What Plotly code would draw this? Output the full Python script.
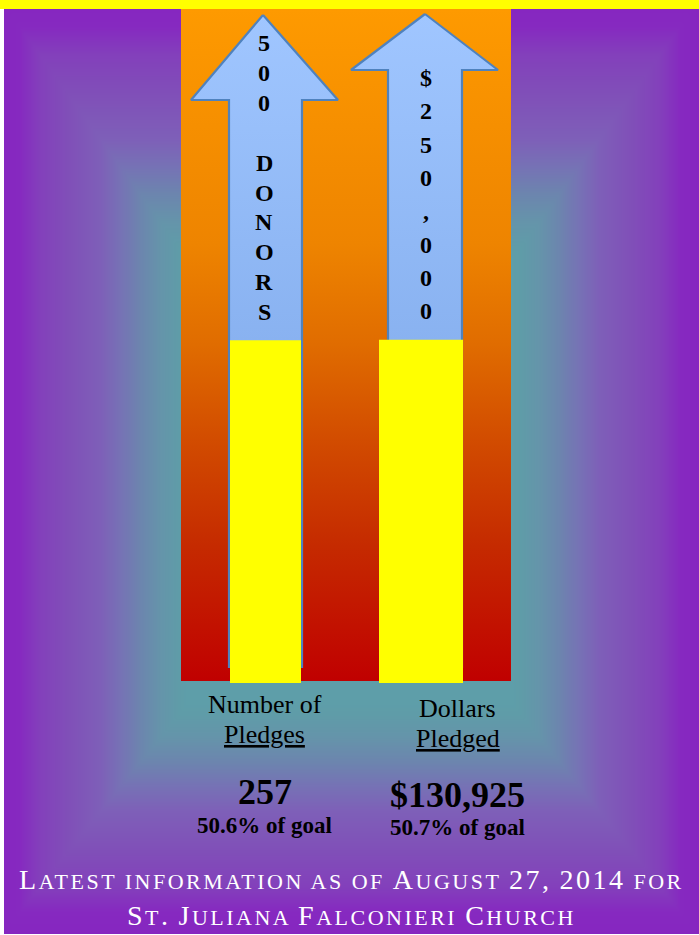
import re
import numpy as np
import plotly.graph_objects as go

# ---------------- data ----------------
categories = ["Number of Pledges", "Dollars Pledged"]
goal_labels = ["500 DONORS", "$250,000"]
pledged_labels = ["257", "$130,925"]
pct_of_goal = [50.6, 50.7]
pct_labels = ["50.6% of goal", "50.7% of goal"]
cat_line1 = ["Number of", "Dollars"]
cat_line2 = ["Pledges", "Pledged"]
footer_1 = "Latest information as of August 27, 2014 for"
footer_2 = "St. Juliana Falconieri Church"

# ---------------- layout constants (pixel units) ----------------
W, H = 699, 935
BAR_X = [265.5, 421.0]
BAR_W = [71, 84]
LABEL_X = [264.5, 457.5]
BASE_PX = 683.0           # pixel row of value 0
PX_PER_PCT = 343.0 / 50.65
SERIF = "Liberation Serif, Times New Roman, serif"

fig = go.Figure()

# ---- background rectangular (path) gradient with an inner focus rectangle ----
gx = np.arange(0, W + 3, 3)
gy = np.arange(0, H + 3, 3)
X, Y = np.meshgrid(gx, gy)
IL, IR, IT, IB = 188.0, 511.0, 260.0, 702.0
t = np.maximum.reduce([
    np.zeros_like(X, dtype=float),
    (IL - X) / IL,
    (X - IR) / (W - IR),
    (IT - Y) / IT,
    (Y - IB) / (H - IB),
])
t = np.clip(t, 0, 1)
bg_scale = [
    [0.0, "#5E9EA9"], [0.05, "#5F9CA8"], [0.15, "#6594AA"], [0.255, "#6C85AE"],
    [0.36, "#7672B5"], [0.47, "#7E5FB8"], [0.63, "#8050B8"], [0.79, "#8340BB"],
    [0.9, "#8629C0"], [1.0, "#8626C0"],
]
fig.add_trace(go.Heatmap(x=gx, y=gy, z=t, zmin=0, zmax=1, colorscale=bg_scale,
                         zsmooth="best", showscale=False, hoverinfo="skip"))

# ---- orange-red panel ----
fig.add_trace(go.Scatter(
    x=[181, 511, 511, 181, 181], y=[9, 9, 681, 681, 9], mode="lines",
    line=dict(width=0), fill="toself", hoverinfo="skip", showlegend=False,
    fillgradient=dict(type="vertical", start=9, stop=681,
                      colorscale=[[0, "#FE9A00"], [0.35, "#EE8400"], [0.5, "#E06C00"],
                                  [0.65, "#D14A00"], [0.8, "#C52A00"], [1, "#C00000"]]),
))

# ---- goal arrows ----
arrows = [
    dict(apex=(263, 15), head_y=100, head=(191, 338), shaft=(229, 302), bottom=667),
    dict(apex=(425, 14), head_y=70, head=(351, 498), shaft=(388, 462), bottom=667),
]
for a in arrows:
    ax = [a["apex"][0], a["head"][1], a["shaft"][1], a["shaft"][1], a["shaft"][0],
          a["shaft"][0], a["head"][0], a["apex"][0]]
    ay = [a["apex"][1], a["head_y"], a["head_y"], a["bottom"], a["bottom"],
          a["head_y"], a["head_y"], a["apex"][1]]
    fig.add_trace(go.Scatter(
        x=ax, y=ay, mode="lines", line=dict(width=2.2, color="#4F82BE"),
        fill="toself", hoverinfo="skip", showlegend=False,
        fillgradient=dict(type="vertical", start=15, stop=667,
                          colorscale=[[0, "#A0C6FF"], [1, "#729EE2"]]),
    ))

# ---- pledged bars (percent of goal) ----
fig.add_trace(go.Bar(x=BAR_X, y=pct_of_goal, width=BAR_W, base=0,
                     marker=dict(color="#FFFF00", line=dict(width=0)),
                     xaxis="x2", yaxis="y2", hoverinfo="skip", showlegend=False))

y2_top = BASE_PX / PX_PER_PCT
y2_bot = -(H - BASE_PX) / PX_PER_PCT

fig.update_layout(
    width=W, height=H, margin=dict(l=0, r=0, t=0, b=0),
    paper_bgcolor="white", plot_bgcolor="rgba(0,0,0,0)", showlegend=False,
    xaxis=dict(range=[0, W], visible=False, fixedrange=True),
    yaxis=dict(range=[H, 0], visible=False, fixedrange=True),
    xaxis2=dict(range=[0, W], visible=False, overlaying="x", fixedrange=True),
    yaxis2=dict(range=[y2_bot, y2_top], visible=False, overlaying="y", fixedrange=True),
)

# ---- decorations: white edges and yellow top band ----
fig.add_shape(type="rect", xref="x", yref="y", x0=0, x1=4, y0=0, y1=H,
              fillcolor="white", line=dict(width=0), layer="above")
fig.add_shape(type="rect", xref="x", yref="y", x0=0, x1=W, y0=H - 1, y1=H,
              fillcolor="white", line=dict(width=0), layer="above")
fig.add_shape(type="rect", xref="x", yref="y", x0=0, x1=W, y0=0, y1=9,
              fillcolor="#FFFF00", line=dict(width=0), layer="above")

# ---- arrow lettering ----
arrow_text = [
    dict(x=264, y0=43, step=29.9, text=goal_labels[0]),
    dict(x=426, y0=78, step=33.3, text=goal_labels[1]),
]
for at in arrow_text:
    for i, ch in enumerate(at["text"]):
        if ch.strip() == "":
            continue
        fig.add_annotation(x=at["x"], y=at["y0"] + i * at["step"], xref="x", yref="y",
                           text=f"<b>{ch}</b>", showarrow=False, xanchor="center",
                           yanchor="middle", font=dict(family=SERIF, size=24, color="black"))

# ---- category labels and values ----
line1_y = [704.4, 708.4]
line2_y = [734.4, 738.4]
val_y = [792, 795]
pct_y = [825.4, 827.4]
for i in range(len(categories)):
    fig.add_annotation(x=LABEL_X[i], y=line1_y[i], xref="x", yref="y", text=cat_line1[i],
                       showarrow=False, yanchor="middle",
                       font=dict(family=SERIF, size=26, color="black"))
    fig.add_annotation(x=LABEL_X[i], y=line2_y[i], xref="x", yref="y",
                       text=f"<u>{cat_line2[i]}</u>", showarrow=False, yanchor="middle",
                       font=dict(family=SERIF, size=26, color="black"))
    fig.add_annotation(x=LABEL_X[i], y=val_y[i], xref="x", yref="y",
                       text=f"<b>{pledged_labels[i]}</b>", showarrow=False, yanchor="middle",
                       font=dict(family=SERIF, size=36, color="black"))
    fig.add_annotation(x=LABEL_X[i], y=pct_y[i], xref="x", yref="y",
                       text=f"<b>{pct_labels[i]}</b>", showarrow=False, yanchor="middle",
                       font=dict(family=SERIF, size=23, color="black"))


# ---- footer in small caps ----
def small_caps(s, big=28, small=22, track=2.5):
    out = []
    for run in re.findall(r"[a-z ]+|[^a-z ]+", s):
        if run.strip() == "" or re.search(r"[a-z]", run):
            out.append(f'<span style="font-size:{small}px;letter-spacing:{track}px">'
                       f'{run.upper()}</span>')
        else:
            out.append(f'<span style="font-size:{big}px;letter-spacing:{track}px">'
                       f'{run}</span>')
    return "".join(out)


for txt, yy in [(footer_1, 879.5), (footer_2, 915.5)]:
    fig.add_annotation(x=351.5, y=yy, xref="x", yref="y", text=small_caps(txt),
                       showarrow=False, yanchor="middle",
                       font=dict(family=SERIF, size=28, color="white"))

fig.write_html("out.html", config={"displayModeBar": False},
               post_script="document.body.style.margin='0px';document.body.style.overflow='hidden';")
